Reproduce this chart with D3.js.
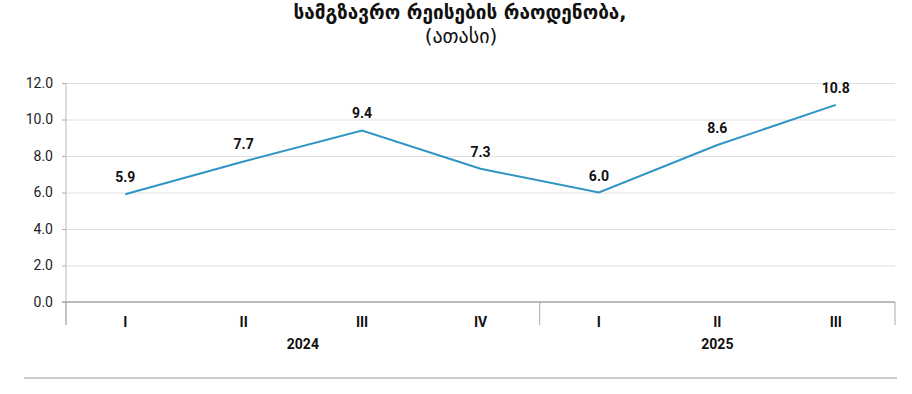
<!DOCTYPE html>
<html><head><meta charset="utf-8">
<script src="https://cdn.jsdelivr.net/npm/d3@7"></script>
<style>
html,body{margin:0;padding:0;background:#fff;}
svg{display:block;}
</style></head>
<body>
<svg id="chart" width="912" height="394"></svg>
<script>
const categories = ["I","II","III","IV","I","II","III"];
const years = ["2024","2024","2024","2024","2025","2025","2025"];
const values = [5.9, 7.7, 9.4, 7.3, 6.0, 8.6, 10.8];
const yTicks = [0, 2, 4, 6, 8, 10, 12];
const titleLines = ["სამგზავრო რეისების რაოდენობა,", "(ათასი)"];

(function(){
const svg = d3.select("#chart");
const pL = 66, pR = 895, pT = 83, pB = 302;
const font = "Roboto, 'Noto Sans', sans-serif";

const x = d3.scaleBand().domain(d3.range(categories.length)).range([pL, pR]).padding(0);
const y = d3.scaleLinear().domain([0, 12]).range([pB, pT]);

// title
svg.append("text").attr("x", 460).attr("y", 19).attr("text-anchor", "middle")
  .attr("font-family", "'DejaVu Sans', sans-serif").attr("font-weight", "bold").attr("font-size", 19)
  .attr("fill", "#111").text(titleLines[0]);
svg.append("text").attr("x", 461).attr("y", 43).attr("text-anchor", "middle")
  .attr("font-family", "'DejaVu Sans', sans-serif").attr("font-size", 20)
  .attr("fill", "#111").text(titleLines[1]);

// gridlines
const yAxis = d3.axisLeft(y).tickValues(yTicks).tickFormat(d3.format(".1f")).tickSize(-(pR - pL)).tickPadding(8);
const gy = svg.append("g").attr("transform", `translate(${pL},0)`).call(yAxis);
gy.select(".domain").remove();
gy.selectAll(".tick line").attr("stroke", "#e0e0e0").attr("stroke-width", 1);
gy.selectAll(".tick text").attr("font-family", font).attr("font-size", 14).attr("fill", "#222").attr("x", -13);
gy.selectAll(".tick").append("line").attr("x1", -4).attr("x2", 0).attr("stroke", "#aaa");

// y axis line
svg.append("line").attr("x1", pL).attr("x2", pL).attr("y1", pT).attr("y2", pB + 23)
  .attr("stroke", "#bbb").attr("stroke-width", 1);

// x axis line
svg.append("line").attr("x1", pL - 4).attr("x2", pR).attr("y1", pB).attr("y2", pB)
  .attr("stroke", "#aaa").attr("stroke-width", 1.5);

// group separators
const groupNames = Array.from(new Set(years));
const groups = groupNames.map(g => {
  const idx = years.map((v, i) => v === g ? i : -1).filter(i => i >= 0);
  return {name: g, x0: x(idx[0]), x1: x(idx[idx.length - 1]) + x.bandwidth()};
});
const seps = [pL, ...groups.map(g => g.x1)];
svg.selectAll(".sep").data(seps).enter().append("line")
  .attr("x1", d => d).attr("x2", d => d).attr("y1", pB).attr("y2", pB + 23)
  .attr("stroke", "#aaa").attr("stroke-width", 1);

// category labels
svg.selectAll(".cat").data(categories).enter().append("text")
  .attr("x", (d, i) => x(i) + x.bandwidth() / 2).attr("y", 327)
  .attr("text-anchor", "middle").attr("font-family", font).attr("font-weight", "bold")
  .attr("font-size", 14).attr("fill", "#111").text(d => d);

// year labels
svg.selectAll(".yr").data(groups).enter().append("text")
  .attr("x", d => (d.x0 + d.x1) / 2).attr("y", 349)
  .attr("text-anchor", "middle").attr("font-family", font).attr("font-weight", "bold")
  .attr("font-size", 14).attr("fill", "#111").text(d => d.name);

// line
const line = d3.line().x((d, i) => x(i) + x.bandwidth() / 2).y(d => y(d));
svg.append("path").datum(values).attr("d", line).attr("fill", "none")
  .attr("stroke", "#2f95c4").attr("stroke-width", 2);

// value labels
svg.selectAll(".val").data(values).enter().append("text")
  .attr("x", (d, i) => x(i) + x.bandwidth() / 2).attr("y", d => y(d) - 12)
  .attr("text-anchor", "middle").attr("font-family", font).attr("font-weight", "bold")
  .attr("font-size", 14).attr("fill", "#111").text(d => d.toFixed(1));

// bottom rule
svg.append("line").attr("x1", 24).attr("x2", 897).attr("y1", 378).attr("y2", 378)
  .attr("stroke", "#bbb").attr("stroke-width", 1.5);
})();
</script>
</body></html>
